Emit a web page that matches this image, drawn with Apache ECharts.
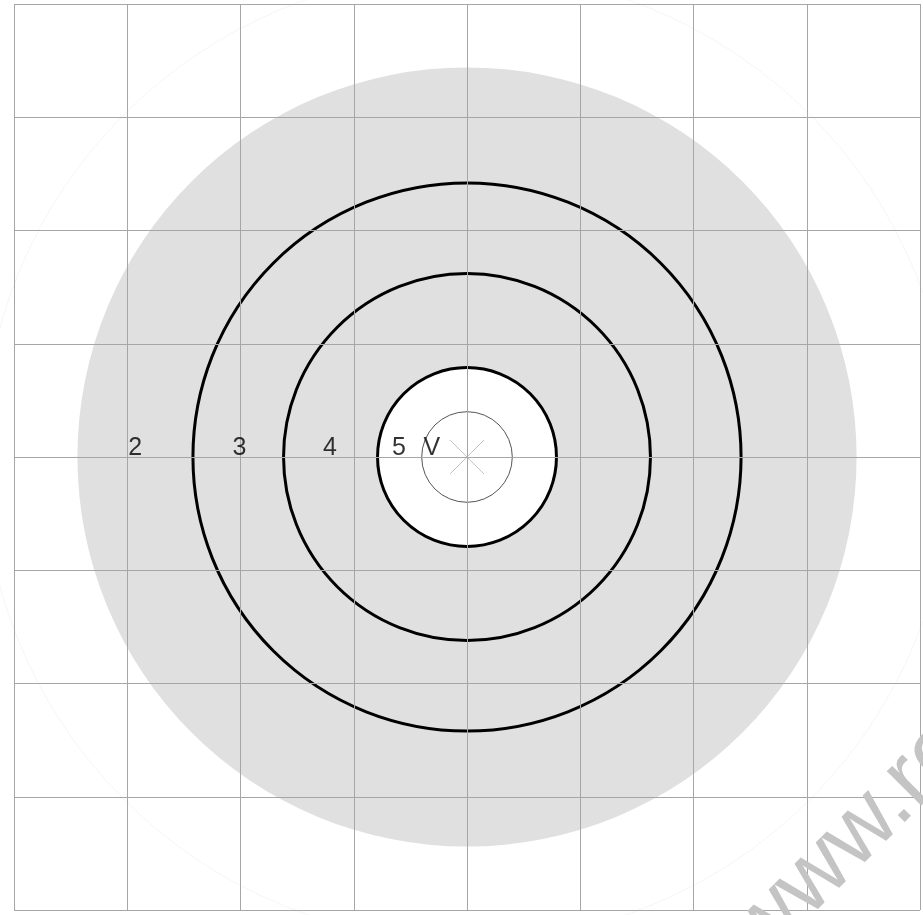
<!DOCTYPE html>
<html>
<head>
<meta charset="utf-8">
<script src="https://cdn.jsdelivr.net/npm/echarts@6/dist/echarts.min.js"></script>
<style>
  html, body { margin: 0; padding: 0; background: #fff; }
  #chart { width: 923px; height: 915px; }
</style>
</head>
<body>
<div id="chart"></div>
<script>
// ring radii in grid units (1 unit = one grid cell), outer to inner
const ringRadii = [4.28, 3.44, 2.42, 1.62, 0.79, 0.40]
// score labels along the horizontal line, left of centre
const scoreLabels = ['2', '3', '4', '5', 'V']
const labelX = [-2.93, -2.01, -1.21, -0.60, -0.31]
const labelY = 0.08
// half length of the centre cross
const crossHalf = [0.15]
// grid extent
const axisMin = -4
const axisMax = 4
const axisStep = 1

let myChart = echarts.init(document.getElementById('chart'))

function ringStyle(i) {
  if (i === 0) return { fill: 'none', stroke: '#f6f6f6', lineWidth: 1 } // faint outer ring
  if (i === 1) return { fill: '#e0e0e0', stroke: 'none' }               // grey disc
  if (i === 4) return { fill: '#fff', stroke: '#000', lineWidth: 3 }    // white centre
  if (i === 5) return { fill: 'none', stroke: '#555', lineWidth: 1 }    // V ring
  return { fill: 'none', stroke: '#000', lineWidth: 3 }
}

const gridLine = { show: true, lineStyle: { color: '#a6a6a6', width: 1 } }

let option = {
  animation: false,
  backgroundColor: '#fff',
  grid: { left: 14, right: 3, top: 4, bottom: 5 },
  xAxis: {
    type: 'value', min: axisMin, max: axisMax, interval: axisStep, z: 5,
    axisLine: { show: false }, axisTick: { show: false }, axisLabel: { show: false },
    splitLine: gridLine
  },
  yAxis: {
    type: 'value', min: axisMin, max: axisMax, interval: axisStep, z: 5,
    axisLine: { show: false }, axisTick: { show: false }, axisLabel: { show: false },
    splitLine: gridLine
  },
  series: [
    {
      type: 'custom',
      z: 2,
      data: ringRadii.map((r, i) => [r, i]),
      renderItem: function (params, api) {
        const c = api.coord([0, 0])
        const pr = api.size([api.value(0), 0])[0]
        return {
          type: 'circle',
          shape: { cx: c[0], cy: c[1], r: pr },
          style: ringStyle(api.value(1))
        }
      }
    },
    {
      type: 'custom',
      z: 3,
      data: crossHalf,
      renderItem: function (params, api) {
        const h = api.value(0)
        const a = api.coord([-h, h]), b = api.coord([h, -h])
        const c = api.coord([-h, -h]), d = api.coord([h, h])
        const st = { stroke: '#c4c4c4', lineWidth: 1 }
        return {
          type: 'group',
          children: [
            { type: 'line', shape: { x1: a[0], y1: a[1], x2: b[0], y2: b[1] }, style: st },
            { type: 'line', shape: { x1: c[0], y1: c[1], x2: d[0], y2: d[1] }, style: st }
          ]
        }
      }
    },
    {
      type: 'scatter',
      z: 6,
      symbolSize: 0,
      data: scoreLabels.map((s, i) => ({ name: s, value: [labelX[i], labelY] })),
      label: {
        show: true,
        position: 'inside',
        formatter: p => p.name,
        color: '#000',
        textBorderWidth: 0,
        fontSize: 25,
        fontFamily: 'Arial'
      }
    }
  ],
  graphic: [
    {
      type: 'text',
      x: 776, y: 980,
      rotation: Math.PI / 4,
      z: 10,
      style: {
        text: 'www.ro',
        fill: '#c4c4c4',
        font: '92px Arial',
        textAlign: 'left',
        textVerticalAlign: 'bottom'
      }
    }
  ]
}

myChart.setOption(option)
window.onresize = function () {
  myChart.resize()
}
</script>
</body>
</html>
